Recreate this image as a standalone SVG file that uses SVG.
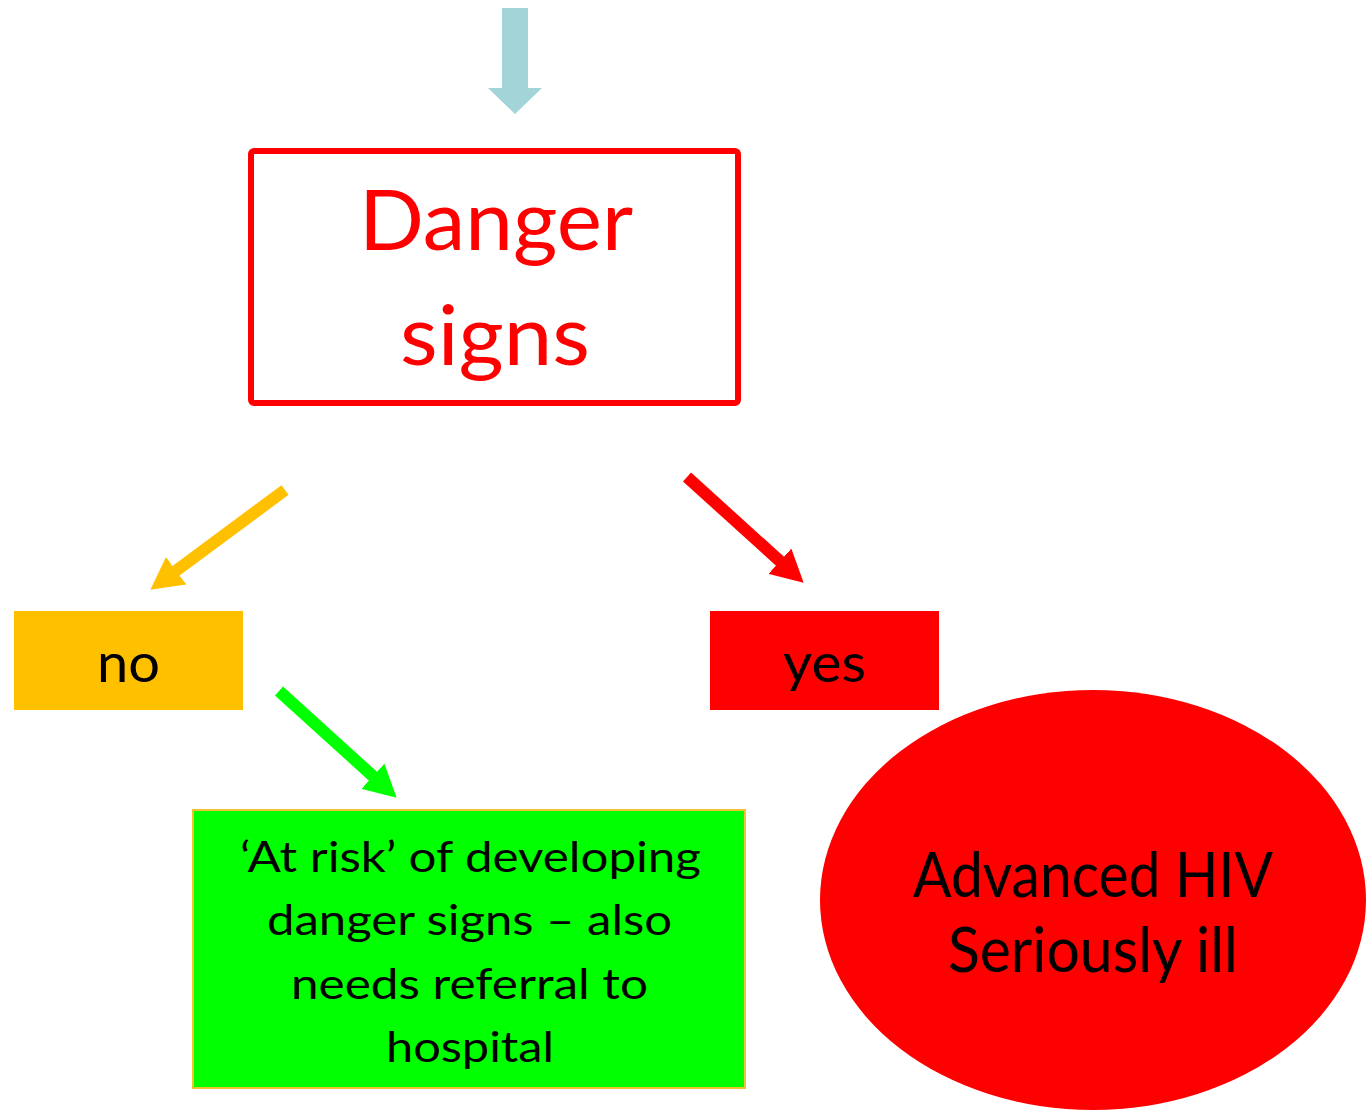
<svg xmlns="http://www.w3.org/2000/svg" width="1372" height="1110" viewBox="0 0 1372 1110">
  <style>
    text { font-family: Lato, "Open Sans", "Liberation Sans", sans-serif; text-anchor: middle; }
    .dark { fill: #000000; }
    .big { fill: #ff0000; font-size: 84px; }
    .mid { font-size: 43px; }
    .lab { font-size: 55px; }
    .ell { font-size: 61px; }
    .conn { stroke-width: 12; fill: none; stroke-linecap: butt; }
  </style>
  <defs>
    <marker id="headY" markerUnits="userSpaceOnUse" markerWidth="32" markerHeight="34" viewBox="0 0 32 34" refX="0.5" refY="17" orient="auto">
      <path d="M0,0 L32,17 L0,34 z" fill="#ffc000"/>
    </marker>
    <marker id="headR" markerUnits="userSpaceOnUse" markerWidth="32" markerHeight="34" viewBox="0 0 32 34" refX="0.5" refY="17" orient="auto">
      <path d="M0,0 L32,17 L0,34 z" fill="#ff0000"/>
    </marker>
    <marker id="headG" markerUnits="userSpaceOnUse" markerWidth="32" markerHeight="34" viewBox="0 0 32 34" refX="0.5" refY="17" orient="auto">
      <path d="M0,0 L32,17 L0,34 z" fill="#00ff00"/>
    </marker>
  </defs>
  <rect x="0" y="0" width="1372" height="1110" fill="#ffffff"/>

  <g id="connectors">
    <polygon id="arrow-top" points="502,8 528,8 528,88 542,88 515,114 488,88 502,88" fill="#a3d4d8"/>
    <line id="arrow-no" class="conn" x1="285" y1="490" x2="175.7" y2="571" stroke="#ffc000" marker-end="url(#headY)"/>
    <line id="arrow-yes" class="conn" x1="687" y1="477" x2="780.3" y2="561.5" stroke="#ff0000" marker-end="url(#headR)"/>
    <line id="arrow-risk" class="conn" x1="279" y1="691" x2="373.3" y2="776.5" stroke="#00ff00" marker-end="url(#headG)"/>
  </g>

  <g id="danger-signs">
    <rect x="251" y="151" width="487" height="252" rx="3" fill="#ffffff" stroke="#ff0000" stroke-width="6" stroke-linejoin="round"/>
    <text class="big" x="496" y="250" textLength="274" lengthAdjust="spacingAndGlyphs">Danger</text>
    <text class="big" x="495" y="365" textLength="190" lengthAdjust="spacingAndGlyphs">signs</text>
  </g>

  <g id="no">
    <rect x="14" y="611" width="229" height="99" fill="#ffc000"/>
    <text class="lab dark" x="128.5" y="682" textLength="63" lengthAdjust="spacingAndGlyphs">no</text>
  </g>

  <g id="yes">
    <rect x="710" y="611" width="229" height="99" fill="#ff0000"/>
    <text class="lab dark" x="824.5" y="682" textLength="83" lengthAdjust="spacingAndGlyphs">yes</text>
  </g>

  <g id="at-risk">
    <rect x="193" y="810" width="552" height="278" fill="#00ff00" stroke="#f2c230" stroke-width="2"/>
    <text class="mid dark" x="470.5" y="872" textLength="461" lengthAdjust="spacingAndGlyphs">‘At risk’ of developing</text>
    <text class="mid dark" x="469.5" y="935" textLength="405" lengthAdjust="spacingAndGlyphs">danger signs – also</text>
    <text class="mid dark" x="469.5" y="999" textLength="357" lengthAdjust="spacingAndGlyphs">needs referral to</text>
    <text class="mid dark" x="470" y="1062" textLength="168" lengthAdjust="spacingAndGlyphs">hospital</text>
  </g>

  <g id="advanced-hiv">
    <ellipse cx="1093" cy="900" rx="273" ry="210" fill="#ff0000"/>
    <text class="ell dark" x="1093" y="897" textLength="360" lengthAdjust="spacingAndGlyphs">Advanced HIV</text>
    <text class="ell dark" x="1093" y="972" textLength="290" lengthAdjust="spacingAndGlyphs">Seriously ill</text>
  </g>
</svg>
